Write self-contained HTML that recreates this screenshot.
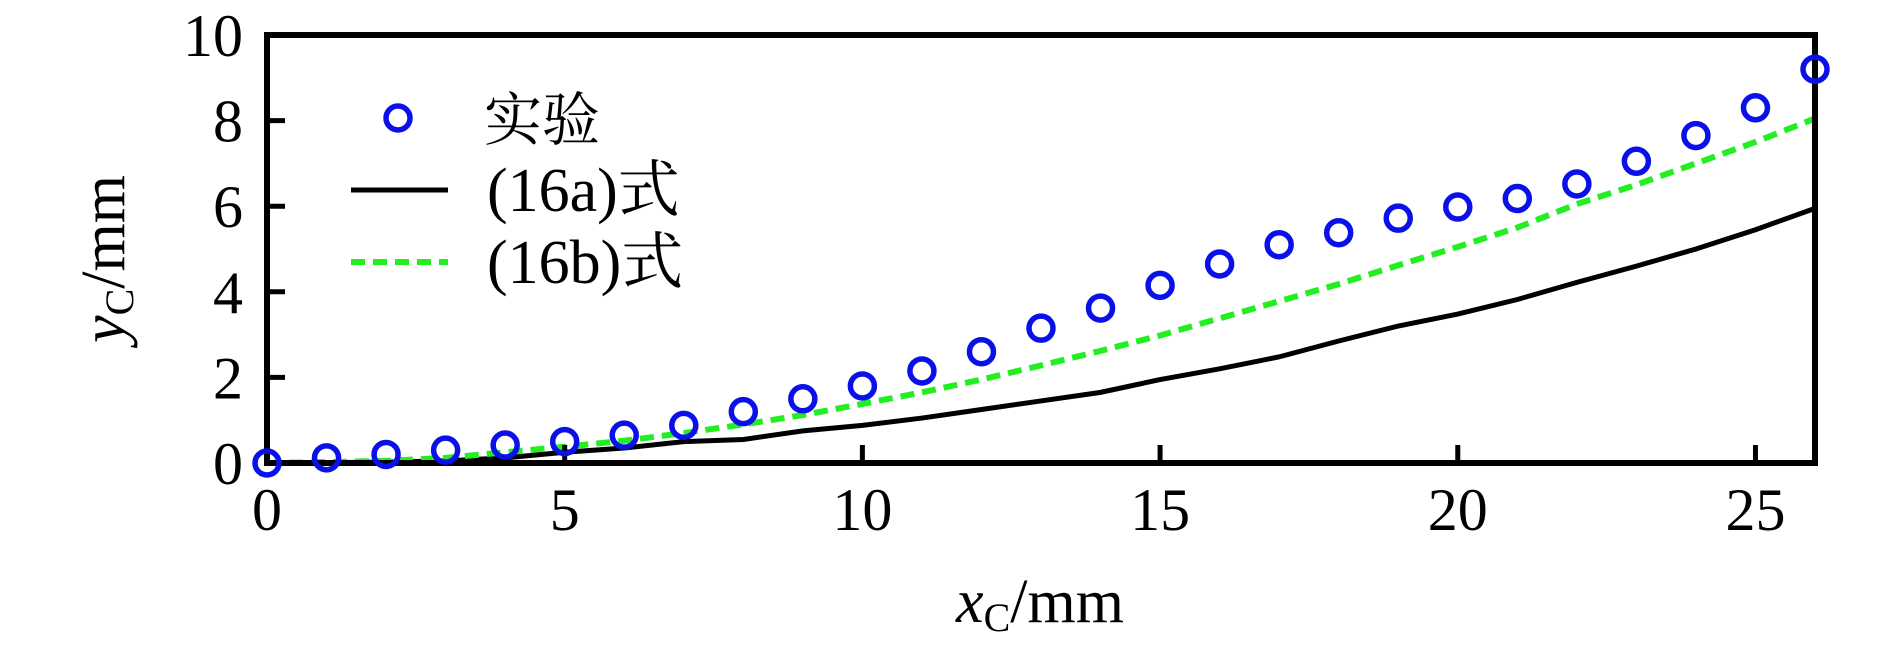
<!DOCTYPE html>
<html><head><meta charset="utf-8"><style>
html,body{margin:0;padding:0;background:#fff;}
svg{display:block;}
text{font-family:"Liberation Serif","Noto Serif CJK SC",serif;fill:#000;}
</style></head><body>
<svg id="chart" width="1890" height="662" viewBox="0 0 1890 662">
<g id="plot"></g>
</svg>
<script>
const xs = [0,1,2,3,4,5,6,7,8,9,10,11,12,13,14,15,16,17,18,19,20,21,22,23,24,25,26];
const expVals = [0,0.12,0.2,0.3,0.42,0.5,0.65,0.88,1.2,1.5,1.8,2.15,2.6,3.15,3.62,4.15,4.65,5.1,5.38,5.72,5.98,6.18,6.52,7.05,7.65,8.3,9.2];
const aVals = [0,0.01,0.02,0.05,0.12,0.25,0.35,0.5,0.55,0.75,0.88,1.05,1.25,1.45,1.65,1.95,2.2,2.48,2.85,3.2,3.48,3.82,4.22,4.6,5.0,5.45,5.95];
const bVals = [0,0.02,0.05,0.12,0.25,0.38,0.52,0.7,0.9,1.12,1.38,1.65,1.95,2.28,2.62,2.98,3.38,3.78,4.18,4.62,5.05,5.5,6.05,6.5,7.0,7.5,8.05];
const xTicks = [0,5,10,15,20,25];
const yTicks = [0,2,4,6,8,10];

const L=267,R=1815,T=35,B=463,XMAX=26,YMAX=10;
const sx=v=>L+(v/XMAX)*(R-L);
const sy=v=>B-(v/YMAX)*(B-T);
const NS="http://www.w3.org/2000/svg";
const g=document.getElementById('plot');
function mk(tag,attrs,parent){const e=document.createElementNS(NS,tag);for(const k in attrs)e.setAttribute(k,attrs[k]);(parent||g).appendChild(e);return e;}

const pa=mk('polyline',{points:xs.map((x,i)=>sx(x)+','+sy(aVals[i])).join(' '),fill:'none',stroke:'#000','stroke-width':5});


const pb=mk('polyline',{points:xs.map((x,i)=>sx(x)+','+sy(bVals[i])).join(' '),fill:'none',stroke:'#22ee22','stroke-width':6,'stroke-dasharray':'14 8'});



const fr=mk('rect',{x:L,y:T,width:R-L,height:B-T,fill:'none',stroke:'#000','stroke-width':6});



xTicks.forEach(v=>{
  const t=mk('line',{x1:sx(v),x2:sx(v),y1:B,y2:B-18,stroke:'#000','stroke-width':5});
  
  
  const l=mk('text',{x:sx(v),y:530,'text-anchor':'middle','font-size':60});
  l.textContent=v;
  
  
});
yTicks.forEach(v=>{
  const t=mk('line',{x1:L,x2:L+18,y1:sy(v),y2:sy(v),stroke:'#000','stroke-width':5});
  
  
  const l=mk('text',{x:243,y:sy(v)+21,'text-anchor':'end','font-size':60});
  l.textContent=v;
  
  
});

xs.forEach((x,i)=>{
  const c=mk('circle',{cx:sx(x),cy:sy(expVals[i]),r:12,fill:'none',stroke:'#0a10e8','stroke-width':5.5});
  
  
});
</script>
<svg width="1890" height="662" style="position:absolute;left:0;top:0">
<g>
  <circle cx="398" cy="118" r="12" fill="none" stroke="#0a10e8" stroke-width="5.5"/>
  <text x="484" y="140" font-size="58">实验</text>
  <line x1="351" y1="190" x2="448" y2="190" stroke="#000" stroke-width="5"/>
  <text x="487" y="211" font-size="62">(16a)式</text>
  <line x1="351" y1="262" x2="448" y2="262" stroke="#22ee22" stroke-width="6" stroke-dasharray="14 8"/>
  <text x="487" y="283" font-size="62">(16b)式</text>
</g>
<text x="1040" y="622" font-size="62" text-anchor="middle"><tspan font-style="italic">x</tspan><tspan font-size="40" dy="9">C</tspan><tspan dy="-9">/mm</tspan></text>
<text transform="translate(124,259) rotate(-90)" font-size="62" text-anchor="middle"><tspan font-style="italic">y</tspan><tspan font-size="40" dy="9">C</tspan><tspan dy="-9">/mm</tspan></text>
</svg>
</body></html>
